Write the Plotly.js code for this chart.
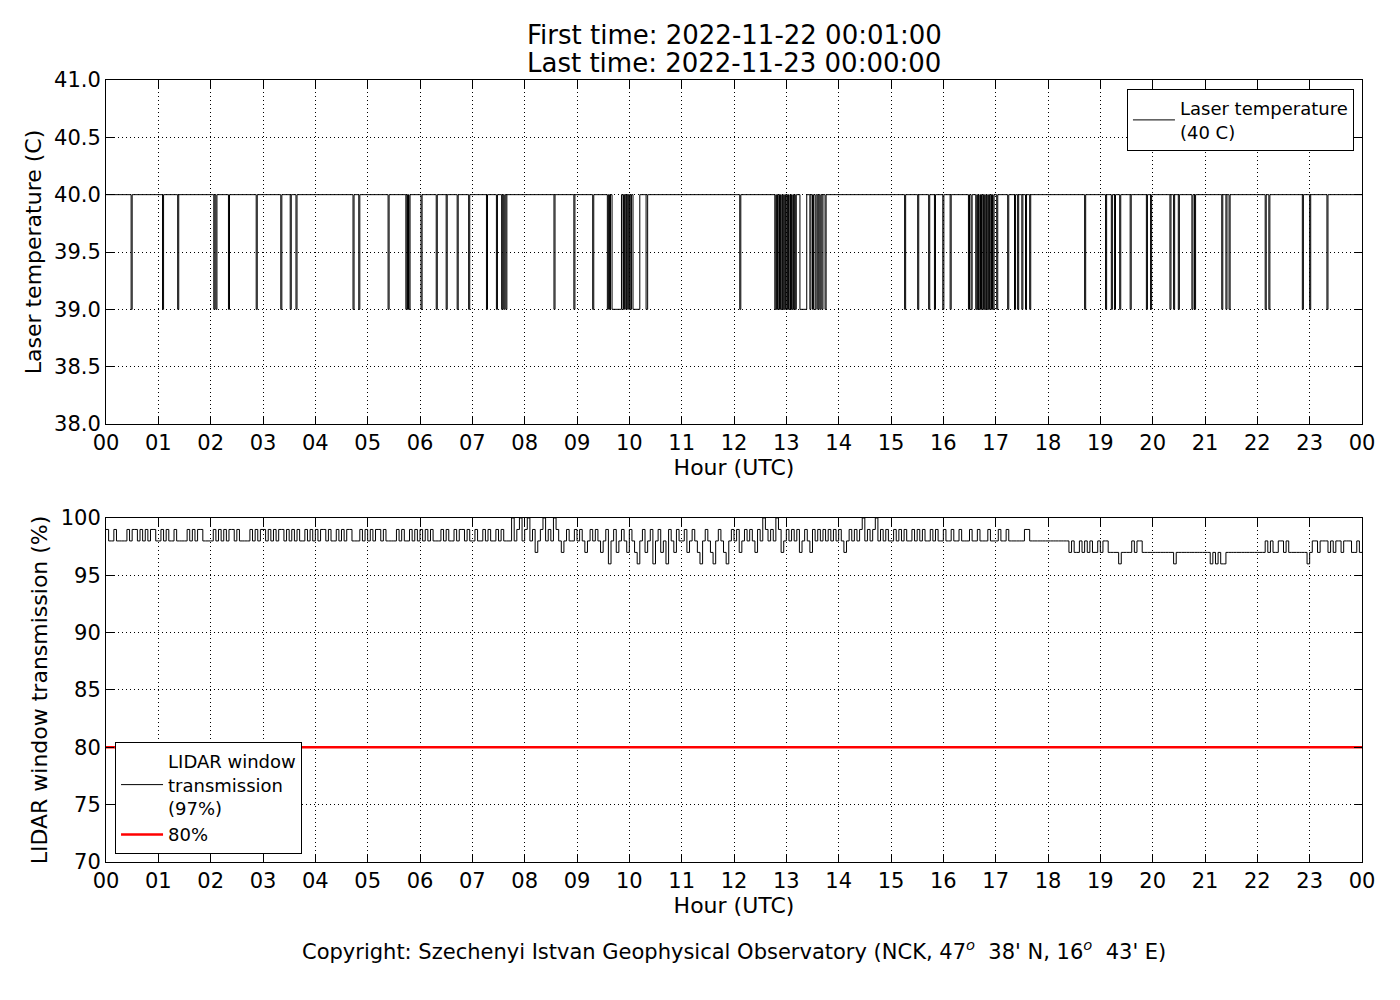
<!DOCTYPE html>
<html>
<head>
<meta charset="utf-8">
<script src="https://cdn.plot.ly/plotly-3.0.1.min.js"></script>
<style>body{margin:0;background:#fff}</style>
</head>
<body>
<div id="chart" style="width:1400px;height:1000px"></div>
<script>
// hour tick labels, 00 .. 23 and back to 00
var hourTicks = [0,1,2,3,4,5,6,7,8,9,10,11,12,13,14,15,16,17,18,19,20,21,22,23,24];
var hourLabels = ['00','01','02','03','04','05','06','07','08','09','10','11','12',
  '13','14','15','16','17','18','19','20','21','22','23','00'];

// laser temperature: 40 C all day, dropping to 39 C in these [start, end] hours
var tempNormal = 40;
var tempLow = 39;
var tempDips = [
  [0.48,0.50],[1.08,1.10],[1.37,1.39],[2.06,2.08],[2.10,2.12],[2.34,2.36],[2.87,2.89],
  [3.34,3.36],[3.52,3.54],[3.63,3.65],[4.72,4.74],[4.83,4.85],[5.39,5.41],[5.73,5.75],
  [5.76,5.78],[5.79,5.81],[6.02,6.04],[6.31,6.33],[6.50,6.52],[6.71,6.73],[6.93,6.95],
  [7.27,7.29],[7.46,7.48],[7.56,7.58],[7.60,7.62],[7.64,7.66],[8.56,8.58],[8.94,8.96],
  [9.30,9.32],[9.58,9.60],[9.62,9.64],[9.67,9.85],[9.88,9.89],[9.91,9.92],[9.94,9.95],
  [9.97,9.98],[10.00,10.01],[10.03,10.04],[10.07,10.20],[10.32,10.35],[12.11,12.13],
  [12.78,12.80],[12.81,12.83],[12.84,12.86],[12.87,12.89],[12.90,12.92],[12.93,12.95],
  [12.96,12.98],[12.99,13.01],[13.02,13.04],[13.05,13.07],[13.08,13.10],[13.11,13.13],
  [13.14,13.16],[13.17,13.19],[13.26,13.39],[13.45,13.47],[13.50,13.52],[13.55,13.57],
  [13.60,13.62],[13.64,13.66],[13.68,13.70],[13.74,13.76],[15.26,15.28],[15.51,15.53],
  [15.72,15.74],[15.83,15.85],[15.99,16.01],[16.13,16.15],[16.48,16.50],[16.53,16.55],
  [16.62,16.64],[16.65,16.67],[16.68,16.70],[16.71,16.73],[16.74,16.76],[16.77,16.79],
  [16.80,16.82],[16.83,16.85],[16.86,16.88],[16.89,16.91],[16.92,16.94],[16.95,16.97],
  [17.02,17.04],[17.23,17.25],[17.36,17.38],[17.42,17.44],[17.50,17.52],[17.57,17.59],
  [17.65,17.67],[18.70,18.72],[19.10,19.12],[19.21,19.23],[19.27,19.29],[19.37,19.39],
  [19.57,19.59],[19.88,19.90],[19.96,19.98],[20.33,20.35],[20.40,20.42],[20.49,20.51],
  [20.75,20.77],[20.80,20.82],[21.32,21.34],[21.40,21.42],[21.46,21.48],[22.15,22.17],
  [22.22,22.24],[22.86,22.88],[23.00,23.02],[23.33,23.35]
];

// LIDAR window transmission (%), one value every 3 minutes, one row per hour
var transStep = 0.05;
var transmission = [
  99,98,98,99,98,98,98,98,99,98,99,99,98,99,98,99,98,99,99,98,
  98,99,98,99,98,98,99,98,98,98,98,99,98,99,98,99,99,98,98,98,
  98,99,98,99,98,99,98,99,99,98,99,98,98,98,98,99,98,99,98,99,
  99,98,99,98,99,98,99,99,98,99,98,99,98,99,98,98,99,98,99,98,
  99,98,99,99,98,99,98,98,99,98,99,98,99,99,98,98,98,99,98,99,
  98,99,98,99,99,98,99,98,98,98,98,99,98,99,98,98,99,98,99,98,
  99,98,99,98,99,98,98,98,99,98,99,98,98,99,98,99,99,98,99,98,
  98,99,98,98,99,98,99,98,98,99,98,99,98,98,98,100,98,99,100,98,
  99,100,98,99,97,98,99,100,98,99,98,100,99,98,97,98,99,98,98,99,
  98,99,98,97,98,99,98,99,98,97,98,99,96,98,99,97,98,99,98,97,
  99,98,97,96,98,99,97,98,99,96,98,99,97,98,96,99,98,97,99,98,
  98,99,97,98,99,98,97,96,98,99,98,97,96,98,99,98,97,96,98,99,
  98,99,97,98,99,98,99,98,97,99,98,100,99,98,99,98,100,99,97,98,
  99,98,99,98,99,97,98,99,98,97,99,98,99,98,99,98,99,98,99,98,
  99,98,97,98,99,98,99,98,99,100,98,99,98,99,100,98,99,98,99,98,
  98,99,98,99,98,99,98,98,99,98,99,98,99,98,98,99,98,99,98,98,
  99,98,98,99,98,98,99,98,98,98,99,98,98,99,98,98,98,99,98,98,
  98,99,98,98,99,98,98,98,98,98,98,99,99,98,98,98,98,98,98,98,
  98,98,98,98,98,98,98,98,97,98,97,97,98,97,98,97,98,97,97,98,
  97,98,98,97,97,97,97,96,97,97,97,97,98,97,98,98,97,97,97,97,
  97,97,97,97,97,97,97,97,96,97,97,97,97,97,97,97,97,97,97,97,
  97,97,96,97,96,97,96,96,97,97,97,97,97,97,97,97,97,97,97,97,
  97,97,97,98,97,98,97,97,98,98,97,98,97,97,97,97,97,97,97,96,
  97,98,98,97,98,98,98,97,98,97,98,98,97,98,98,98,97,97,98,97
];
var limitValue = 80;

// build the step traces
var tempX = [0], tempY = [tempNormal];
tempDips.forEach(function (d) {
  tempX.push(d[0]); tempY.push(tempLow);
  tempX.push(d[1]); tempY.push(tempNormal);
});
tempX.push(24); tempY.push(tempNormal);

var transX = [], transY = [];
transmission.forEach(function (v, i) {
  transX.push(i * transStep); transY.push(v);
});
transX.push(24); transY.push(transmission[transmission.length - 1]);

var font = 'DejaVu Sans, sans-serif';

function xAxis(anchor) {
  return {
    anchor: anchor,
    range: [0, 24],
    tickvals: hourTicks,
    ticktext: hourLabels,
    ticks: 'inside', ticklen: 8, tickcolor: 'black',
    showline: true, mirror: 'ticks', linecolor: 'black', linewidth: 1,
    showgrid: true, gridcolor: 'black', griddash: '1px,3px', gridwidth: 1,
    zeroline: false,
    tickfont: {family: font, size: 21, color: 'black'},
    title: {text: 'Hour (UTC)', font: {family: font, size: 22, color: 'black'}, standoff: 3}
  };
}

function yAxis(anchor, domain, range, dtick, fmt, title) {
  return {
    anchor: anchor,
    domain: domain,
    range: range,
    tick0: range[0], dtick: dtick, tickformat: fmt,
    ticks: 'inside', ticklen: 8, tickcolor: 'black',
    showline: true, mirror: 'ticks', linecolor: 'black', linewidth: 1,
    showgrid: true, gridcolor: 'black', griddash: '1px,3px', gridwidth: 1,
    zeroline: false,
    tickfont: {family: font, size: 21, color: 'black'},
    title: {text: title, font: {family: font, size: 22, color: 'black'}, standoff: 6}
  };
}

var data = [{
  x: tempX, y: tempY,
  type: 'scatter', mode: 'lines',
  line: {color: 'black', width: 1, shape: 'hv'},
  name: 'Laser temperature<br>(40 C)',
  xaxis: 'x', yaxis: 'y', legend: 'legend'
}, {
  x: transX, y: transY,
  type: 'scatter', mode: 'lines',
  line: {color: 'black', width: 1, shape: 'hv'},
  name: 'LIDAR window<br>transmission<br>(97%)',
  xaxis: 'x2', yaxis: 'y2', legend: 'legend2'
}, {
  x: [0, 24], y: [limitValue, limitValue],
  type: 'scatter', mode: 'lines',
  line: {color: '#ff0000', width: 2.5},
  name: '80%',
  xaxis: 'x2', yaxis: 'y2', legend: 'legend2'
}];

var legendStyle = {
  bgcolor: 'white', bordercolor: 'black', borderwidth: 1,
  font: {family: font, size: 18, color: 'black'},
  itemwidth: 42,
  tracegroupgap: 2
};

var layout = {
  width: 1400, height: 1000,
  paper_bgcolor: 'white', plot_bgcolor: 'white',
  margin: {l: 106, r: 38, t: 80, b: 138},
  font: {family: font, color: 'black'},
  xaxis: xAxis('y'),
  yaxis: yAxis('x', [0.5601, 1], [38, 41], 0.5, '.1f', 'Laser temperature (C)'),
  xaxis2: xAxis('y2'),
  yaxis2: yAxis('x2', [0, 0.4399], [70, 100], 5, 'd', 'LIDAR window transmission (%)'),
  legend: Object.assign({x: 0.9936, y: 0.9885, xanchor: 'right', yanchor: 'top'}, legendStyle),
  legend2: Object.assign({x: 0.0072, y: 0.0102, xanchor: 'left', yanchor: 'bottom'}, legendStyle),
  showlegend: true,
  annotations: [{
    text: 'First time: 2022-11-22 00:01:00',
    xref: 'paper', yref: 'paper', x: 0.5, y: 1.0575, yanchor: 'middle',
    showarrow: false, font: {family: font, size: 26, color: 'black'}
  }, {
    text: 'Last time: 2022-11-23 00:00:00',
    xref: 'paper', yref: 'paper', x: 0.5, y: 1.0217, yanchor: 'middle',
    showarrow: false, font: {family: font, size: 26, color: 'black'}
  }, {
    text: "Copyright: Szechenyi Istvan Geophysical Observatory (NCK, 47<sup><i>o</i></sup>  38' N, 16<sup><i>o</i></sup>  43' E)",
    xref: 'paper', yref: 'paper', x: 0.5, y: -0.1125, yanchor: 'middle',
    showarrow: false, font: {family: font, size: 21, color: 'black'}
  }]
};

Plotly.newPlot('chart', data, layout, {displayModeBar: false, staticPlot: true});
</script>
</body>
</html>
